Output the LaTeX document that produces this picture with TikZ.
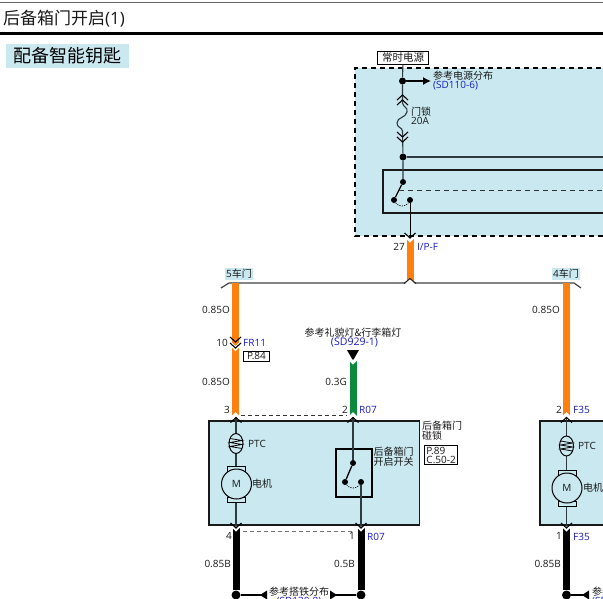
\documentclass[tikz,border=0pt]{standalone}
\usepackage{fontspec}
\setmainfont{Open Sans}
\newfontfamily\cjk{Noto Sans CJK SC}
\usetikzlibrary{arrows.meta}

\definecolor{panel}{HTML}{C9E8F0}
\definecolor{wireO}{HTML}{FF7F0F}
\definecolor{wireG}{HTML}{0B8A3C}
\definecolor{refblue}{HTML}{1A1AC8}
\definecolor{line}{HTML}{2E3A40}

\tikzset{
  txt/.style={inner sep=0pt, anchor=west, font=\fontsize{10}{10}\selectfont, text=black!90},
  lab/.style={txt, anchor=east},
  mid/.style={txt, anchor=center},
  blu/.style={txt, text=refblue},
  tag/.style={mid, fill=panel, minimum height=12pt, inner xsep=1pt},
  pagebox/.style={txt, draw=black, line width=0.9pt, fill=white, align=left},
  thin wire/.style={draw=line, line width=1.1pt},
  box/.style={draw=black!90, line width=1.6pt},
  orange wire/.style={draw=wireO, line width=7pt},
  green wire/.style={draw=wireG, line width=7pt},
  black wire/.style={draw=black, line width=7pt},
  dot/.style={circle, fill=black, inner sep=0pt, minimum size=#1},
  dot/.default=7pt,
  chev/.pic={\draw[line width=1.1pt, black] (-5.5,5) -- (0,0) -- (5.5,5);},
  chevd/.pic={\draw[line width=1.1pt, black] (-5.5,-5) -- (0,0) -- (5.5,-5);},
  gapu/.pic={\fill[white] (-4.5,0.5) -- (-4.5,0) -- (0,-4.5) -- (4.5,0) -- (4.5,0.5) -- cycle;},
  gapd/.pic={\fill[white] (-4.5,-0.5) -- (-4.5,0) -- (0,4.5) -- (4.5,0) -- (4.5,-0.5) -- cycle;},
  ptc/.pic={
    \draw[line width=1pt, fill=panel] (0,0) ellipse (7 and 10);
    \draw[line width=0.8pt] (-6,-5) -- (6,-3) -- (-6,-1) -- (6,1) -- (-6,3) -- (6,5);
  },
  motor/.pic={
    \draw[line width=1pt, fill=panel] (-9,-18) rectangle (9,-13);
    \draw[line width=1pt, fill=panel] (-9,13) rectangle (9,18);
    \draw[line width=1pt, fill=panel] (0,0) circle (15);
    \node[mid] at (0,0) {M};
  },
  stub/.style={line width=1.3pt, draw=black}
}

\begin{document}
\begin{tikzpicture}[x=1pt, y=-1pt]
\useasboundingbox (0,0) rectangle (603,598);
\clip (0,0) rectangle (603,598);

% page head
\draw[black!60, line width=1pt] (0,2) -- (603,2);
\draw[black, line width=3pt] (0,33) -- (603,33);
\node[txt, font=\fontsize{17}{17}\selectfont] (title) at (3,19) {{\cjk 后备箱门开启}(1)};
\node[anchor=west, fill=panel, inner xsep=7pt, inner ysep=2pt, minimum height=24pt, minimum width=123pt,
      font=\fontsize{18}{18}\selectfont\cjk] (option) at (6,56) {配备智能钥匙};

% fuse box
\fill[panel] (355,68) rectangle (610,236);
\draw[black, line width=1.4pt, dashed, dash pattern=on 5pt off 4pt] (610,68) -- (355,68) -- (355,236) -- (610,236);
\draw[box] (383,170) rectangle (610,213);

\node[pagebox, anchor=center, minimum width=51pt, minimum height=13pt, font=\fontsize{10.5}{10.5}\selectfont\cjk] (feed) at (403,57.5) {常时电源};

\coordinate (fuseup) at (402.5,103);
\coordinate (fusedn) at (402.5,131);
\node[dot] (top) at (402.5,81) {};
\node[dot] (bus) at (403,157) {};
\node[dot=6pt] (sw0) at (403,182) {};
\node[dot=6pt] (sw1) at (394,200) {};
\node[dot=6pt] (sw2) at (410,200) {};
\coordinate (rbus) at (610,157);
\coordinate (relay) at (399,190);
\coordinate (rrelay) at (610,190);
\coordinate (ipf) at (410,238);

\draw[thin wire] (feed) -- (top) -- (fuseup);
\draw[thin wire] (fuseup) .. controls (403,107) and (408,107) .. (407,112)
   .. controls (406,118) and (397,117) .. (397,123) .. controls (397,128) and (402,127) .. (fusedn);
\draw[thin wire] (fusedn) -- (bus) -- (sw0);
\draw[thin wire] (bus) -- (rbus);
\draw[line width=1.3pt] (sw0) -- (sw1);
\draw[line width=0.7pt, dashed, dash pattern=on 1.2pt off 1.2pt] (sw1) to[out=-60, in=-120] (sw2);
\draw[black!80, line width=0.8pt, dashed, dash pattern=on 5pt off 4pt] (relay) -- (rrelay);
\draw[black, line width=1pt] (sw2) -- (ipf);
\draw[-{Latex[length=8pt,width=8pt]}, line width=1.2pt] (top) -- (431,81);

\foreach \y in {95,100} \pic at (402.5,\y) {chev};
\foreach \y in {137,142} \pic at (402.5,\y) {chevd};

\node[txt] (reftop) at (433,76) {\cjk 参考电源分布};
\node[blu] (reftopb) at (433,86) {(SD110-6)};
\node[txt] (fusename) at (411,112) {\cjk 门锁};
\node[txt] (fuseamp) at (411,121) {20A};

% splice from fuse box
\coordinate (splice) at (410,283);
\coordinate (bl) at (221,288);
\coordinate (bla) at (229,283);
\coordinate (bra) at (574,283);
\coordinate (br) at (581,288);
\draw[orange wire] (ipf) -- (splice);
\pic at (410,238) {gapd};
\pic at (410,238) {chevd};
\draw[black!75, line width=1.2pt] (bl) -- (bla) -- (bra) -- (br);
\fill[white] (405,284) -- (410,279) -- (415,284) -- cycle;
\draw[black!85, line width=1pt] (404,283.5) -- (410,278.5) -- (416,283.5);
\node[lab] at (405,247) (pin27) {27};
\node[blu] at (417,247) (ipfname) {I/P-F};

\node[tag] (door5) at (239,274) {5{\cjk 车门}};
\node[tag] (door4) at (566,274) {4{\cjk 车门}};

% left side
\coordinate (a0) at (235.5,283);
\coordinate (a1) at (235.5,416);
\coordinate (g0) at (353,360);
\coordinate (g1) at (353,416);
\draw[orange wire] (a0) -- (a1);
\draw[green wire] (g0) -- (g1);
\fill[black] (347,350) -- (359,350) -- (353,360.5) -- cycle;
\pic at (353,360) {gapd};
\fill[white] (231.5,342) -- (235.5,346) -- (239.5,342) -- (239.5,347) -- (235.5,351) -- (231.5,347) -- cycle;
\foreach \y in {342,348} \pic at (235.5,\y) {chevd};
\pic at (235.5,416.5) {gapu};
\pic at (353,416.5) {gapu};
\draw[black!80, line width=0.8pt, dashed, dash pattern=on 4pt off 3pt] (241,415) -- (347,415);

\node[lab] at (230,310) (w1) {0.85O};
\node[lab] at (230,382) (w2) {0.85O};
\node[lab] at (347,382) (w3) {0.3G};
\node[lab] at (228,343) (pin10) {10};
\node[blu] at (243,343) (fr11) {FR11};
\node[pagebox, anchor=west, minimum width=26pt, minimum height=10pt, inner xsep=2pt, inner ysep=0pt] at (243,356) (p84) {P.84};
\node[lab] at (230,410) (pin3) {3};
\node[lab] at (348,410) (pin2) {2};
\node[blu] at (359,410) (r07a) {R07};
\node[mid] at (353,333) (reflamp) {\cjk 参考礼貌灯\&行李箱灯};
\node[mid, text=refblue, font=\fontsize{10.5}{10.5}\selectfont] at (354.5,343) (reflampb) {(SD929-1)};

% latch left
\draw[box, fill=panel] (209,421) rectangle (419.5,525);
\coordinate (mt) at (236,418);
\coordinate (mb) at (236,528);
\draw[thin wire] (mt) -- (mb);
\pic at (236,417.5) {chev};
\pic at (236,443.5) {ptc};
\pic at (236.5,484) {motor};
\node[txt] at (248,444) (ptcname) {PTC};
\node[txt] at (252,484) (motorname) {\cjk 电机};

\draw[line width=1.2pt] (336,449) rectangle (372,497);
\node[dot=6pt] (lsw0) at (353,463) {};
\node[dot=6pt] (lsw1) at (345,482) {};
\node[dot=6pt] (lsw2) at (361,482) {};
\coordinate (lst) at (353,418);
\coordinate (lsb) at (361,528);
\draw[thin wire] (lst) -- (lsw0);
\draw[thin wire] (lsw2) -- (lsb);
\draw[line width=1.3pt] (lsw0) -- (lsw1);
\draw[line width=0.7pt, dashed, dash pattern=on 1.2pt off 1.2pt] (lsw1) to[out=-60, in=-120] (lsw2);
\pic at (353,417.5) {chev};
\node[txt] at (373.5,452) (lswname) {\cjk 后备箱门};
\node[txt] at (373.5,462) (lswname2) {\cjk 开启开关};
\node[txt] at (422,426) (latch) {\cjk 后备箱门};
\node[txt] at (422,436) (latch2) {\cjk 碰锁};
\node[pagebox, inner xsep=2pt, inner ysep=1.5pt, font=\fontsize{10}{10}\selectfont] at (424,455) (p89) {P.89\\[-1pt]C.50-2};

% black wires left
\node[dot=9pt] (gnd1) at (236,595) {};
\node[dot=9pt] (gnd2) at (361,595) {};
\coordinate (b1) at (236,527);
\coordinate (b2) at (361,527);
\draw[black wire] (b1) -- (gnd1);
\draw[black wire] (b2) -- (gnd2);
\foreach \x in {236,361} {
  \pic at (\x,527) {gapd};
  \pic at (\x,528) {chevd};
}
\draw[black!55, line width=0.8pt, dashed, dash pattern=on 4pt off 3pt] (243,531) -- (355,531);
\node[lab] at (232,536) (pin4) {4};
\node[lab] at (355,536) (pin1) {1};
\node[blu] at (367,537) (r07b) {R07};
\node[lab] at (231,564) (w4) {0.85B};
\node[lab] at (355,564) (w5) {0.5B};

\node[mid] at (299,592) (refgnd) {\cjk 参考搭铁分布};
\node[mid, text=refblue] at (299,602) (refgndb) {(SD130-8)};
\coordinate (ga1) at (267,595);
\coordinate (ga2) at (330,595);
\draw[stub] (ga1) -- (gnd1);
\draw[stub] (ga2) -- (gnd2);
\fill[black] (ga1) ++(0,-4.5) -- ++(-7,4.5) -- ++(7,4.5) -- cycle;
\fill[black] (ga2) ++(0,-4.5) -- ++(7,4.5) -- ++(-7,4.5) -- cycle;

% right side
\coordinate (c0) at (566.5,283);
\coordinate (c1) at (566.5,416);
\draw[orange wire] (c0) -- (c1);
\pic at (566.5,416.5) {gapu};
\node[lab] at (560,310) (w6) {0.85O};
\node[lab] at (562,410) (pin2r) {2};
\node[blu] at (573,410) (f35a) {F35};

\draw[box, fill=panel] (540,421) rectangle (610,525);
\coordinate (nt) at (566.5,418);
\coordinate (nb) at (566.5,528);
\draw[thin wire] (nt) -- (nb);
\pic at (566.5,417.5) {chev};
\pic at (566.5,446) {ptc};
\pic at (567,488) {motor};
\node[txt] at (578,446) (ptcname2) {PTC};
\node[txt] at (583,488) (motorname2) {\cjk 电机};

\node[dot=9pt] (gnd3) at (566.5,595) {};
\coordinate (b3) at (566.5,527);
\draw[black wire] (b3) -- (gnd3);
\pic at (566.5,527) {gapd};
\pic at (566.5,528) {chevd};
\node[lab] at (562,536) (pin1r) {1};
\node[blu] at (573,537) (f35b) {F35};
\node[lab] at (561,564) (w7) {0.85B};
\node[txt] at (592,592) (refgnd2) {\cjk 参考搭铁分布};
\node[blu] at (592,602) (refgnd2b) {(SD130-8)};
\coordinate (ga3) at (589,595);
\draw[stub] (ga3) -- (gnd3);
\fill[black] (ga3) ++(0,-4.5) -- ++(-7,4.5) -- ++(7,4.5) -- cycle;

\end{tikzpicture}
\end{document}
